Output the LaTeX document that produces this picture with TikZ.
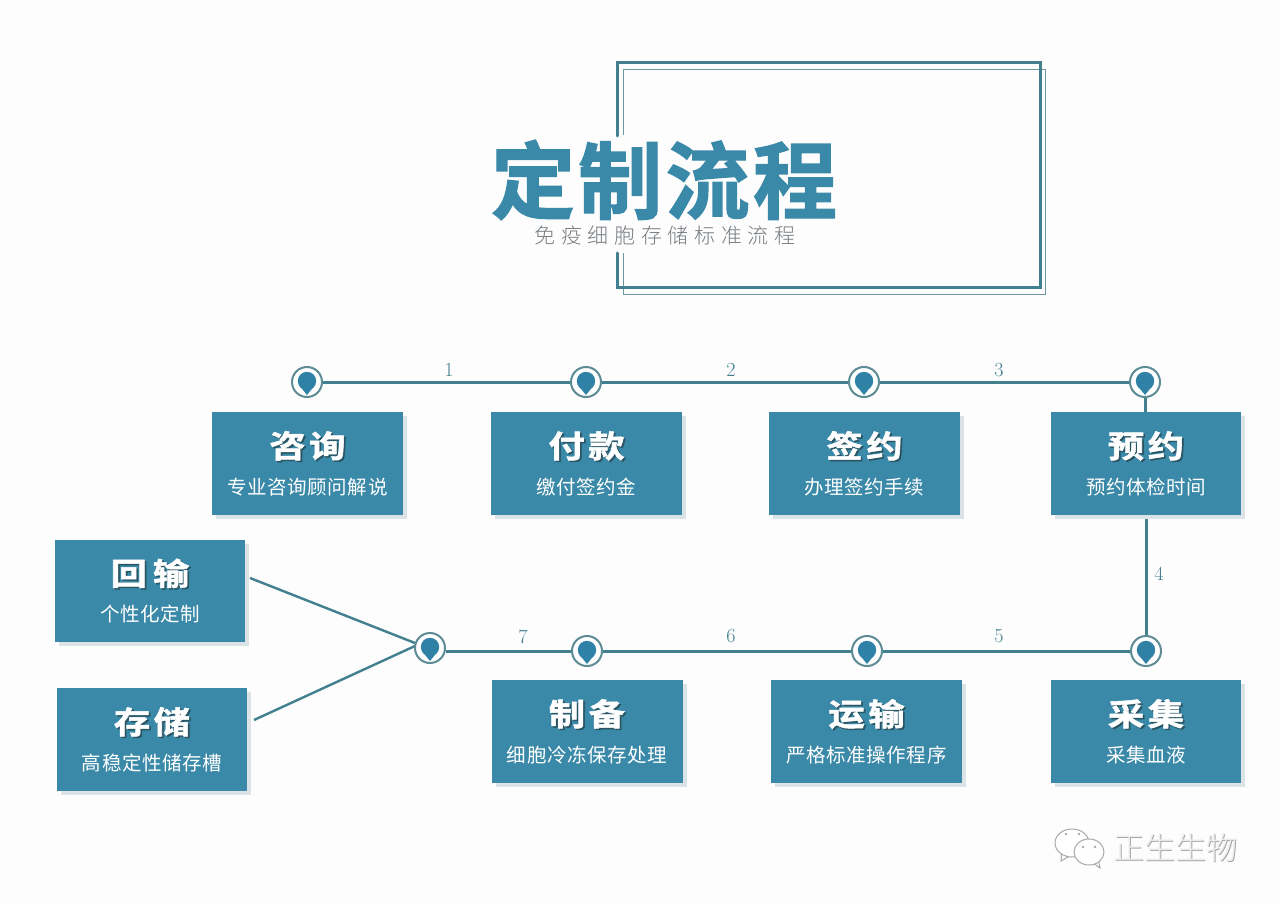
\documentclass[tikz,border=0pt]{standalone}
\usepackage{fontspec}
\usepackage{graphicx}
\usepackage{xcolor}
\usetikzlibrary{shadows,backgrounds}
\newfontfamily\cjk{Noto Sans CJK SC}
\newfontfamily\cjklight{Noto Sans CJK SC Light}
\newfontfamily\cjkheavy[FakeBold=1.6]{Noto Sans CJK SC Bold}
\definecolor{pagebg}{HTML}{FDFDFE}
\definecolor{boxblue}{HTML}{3A89A8}
\definecolor{linet}{HTML}{42808F}
\definecolor{ringc}{HTML}{5E8C95}
\definecolor{pinc}{HTML}{2F82A6}
\definecolor{numc}{HTML}{3F7F8E}
\definecolor{subgray}{HTML}{777C80}
\definecolor{boxshadow}{HTML}{DCE3E6}
\definecolor{headshadow}{HTML}{2A5563}
\definecolor{wmgray}{HTML}{A6A8AA}
\definecolor{wmlight}{HTML}{ECEDEE}
\definecolor{innerf}{HTML}{6F97A0}
\newcommand{\shadowtext}[1]{\rlap{\raisebox{-1.5pt}{\kern1.5pt\color{headshadow}#1}}#1}
\newcommand{\boxtext}[2]{\scalebox{1.17}[1]{\cjkheavy\fontsize{31}{36}\selectfont\addfontfeature{LetterSpace=10}\shadowtext{#1}}\\{\cjk\fontsize{19.5}{36}\selectfont\addfontfeature{LetterSpace=3}#2}}
\newcommand{\pinmark}[3]{%
  \node[ringnode] (#1) at (#2,#3) {};
  \fill[pinc] (#2,#3-1) circle[radius=9.2pt];
  \fill[pinc] (#2-6.5,#3+5) -- (#2,#3+13) -- (#2+6.5,#3+5) -- cycle;
}
\tikzset{
  infobox/.style={fill=boxblue,text=white,minimum width=191pt,minimum height=103pt,inner sep=0pt,align=center,
    font=\fontsize{20}{36.5}\selectfont,
    drop shadow={shadow xshift=4pt,shadow yshift=-4pt,fill=boxshadow,opacity=1}},
  ringnode/.style={circle,fill=white,draw=ringc,line width=2pt,minimum size=30pt,inner sep=0pt},
  flowline/.style={draw=linet,line width=3pt},
  slantline/.style={draw=linet,line width=2.4pt},
  numlabel/.style={text=numc,font=\fontsize{20}{22}\selectfont,inner sep=0pt},
  frameouter/.style={draw=linet,line width=3pt,line cap=round},
  frameinner/.style={draw=innerf,line width=1pt},
  bubble/.style={draw=wmgray,fill=white,line width=1pt},
}
\begin{document}
\begin{tikzpicture}[x=1pt,y=-1pt]
\useasboundingbox (0,0) rectangle (1280,904);
% frames
\draw[frameinner] (623,70) -- (1045,70) -- (1045,294) -- (623,294) -- (623,253);
\draw[frameinner] (623,70) -- (623,135);
\draw[frameouter] (617,136) -- (617,63) -- (1040,63) -- (1040,287) -- (617,287) -- (617,253);
% title
\node[inner sep=0pt,text=boxblue] (title) at (664,180) {\cjkheavy\fontsize{84}{90}\selectfont\addfontfeature{LetterSpace=4}定制流程};
\node[inner sep=0pt,text=subgray] (subtitle) at (665,235) {\cjklight\fontsize{21}{24}\selectfont\addfontfeature{LetterSpace=27}免疫细胞存储标准流程};
% boxes
\node[infobox] (zixun) at (307.5,463.5) {\boxtext{咨询}{专业咨询顾问解说}};
\node[infobox] (fukuan) at (586.5,463.5) {\boxtext{付款}{缴付签约金}};
\node[infobox] (qianyue) at (864.5,463.5) {\boxtext{签约}{办理签约手续}};
\node[infobox,minimum width=190pt] (yuyue) at (1146,463.5) {\boxtext{预约}{预约体检时间}};
\node[infobox] (zhibei) at (587,731.5) {\boxtext{制备}{细胞冷冻保存处理}};
\node[infobox] (yunshu) at (866.5,731.5) {\boxtext{运输}{严格标准操作程序}};
\node[infobox,minimum width=190pt] (caiji) at (1146,731.5) {\boxtext{采集}{采集血液}};
\node[infobox,minimum width=190pt,minimum height=102pt] (huishu) at (150,591) {\boxtext{回\,输}{个性化定制}};
\node[infobox,minimum width=190pt] (cunchu) at (152,739.5) {\boxtext{存储}{高稳定性储存槽}};
% markers
\pinmark{ma}{307}{382}
\pinmark{mb}{586}{382}
\pinmark{mc}{864}{382}
\pinmark{md}{1145}{382}
\pinmark{me}{1146}{651}
\pinmark{mf}{867}{651}
\pinmark{mg}{587}{651}
\pinmark{mh}{430}{648}
% connector ends
\coordinate (huiend) at (250,578);
\coordinate (cunend) at (254,720);
\coordinate (hjoin) at (415,643);
\coordinate (cjoin) at (415,646);
\begin{scope}[on background layer]
\fill[pagebg] (0,0) rectangle (1280,904);
\draw[flowline] (ma) -- (mb);
\draw[flowline] (mb) -- (mc);
\draw[flowline] (mc) -- (md);
\draw[flowline] (md) -- (md |- yuyue.north);
\draw[flowline] (me |- yuyue.south) -- (me);
\draw[flowline] (me) -- (mf);
\draw[flowline] (mf) -- (mg);
\draw[flowline] (mg) -- (mh.east |- mg);
\draw[slantline] (huiend) -- (hjoin);
\draw[slantline] (cunend) -- (cjoin);
\end{scope}
% numbers
\node[numlabel] (n1) at (449,370) {1};
\node[numlabel] (n2) at (731,370) {2};
\node[numlabel] (n3) at (999,370) {3};
\node[numlabel] (n4) at (1159,574) {4};
\node[numlabel] (n5) at (999,636) {5};
\node[numlabel] (n6) at (731,636) {6};
\node[numlabel] (n7) at (523,637) {7};
% watermark
\draw[bubble] (1062,850) -- (1061,861) -- (1073,854);
\draw[bubble] (1072,843) ellipse[x radius=17pt,y radius=14pt];
\draw[bubble] (1089,860) -- (1100,868) -- (1098,858);
\draw[bubble] (1089,852) ellipse[x radius=15pt,y radius=13pt];
\fill[wmgray] (1066,834) circle[radius=1.4pt] (1079,834) circle[radius=1.4pt] (1083,847) circle[radius=1.4pt] (1095,847) circle[radius=1.4pt];
\node[inner sep=0pt,text=wmgray] (wm) at (1175.5,848) {\cjklight\fontsize{31}{33}\selectfont\rlap{\raisebox{-1pt}{\kern1pt\color{wmgray}正生生物}}\color{wmlight}正生生物};
\end{tikzpicture}
\end{document}
